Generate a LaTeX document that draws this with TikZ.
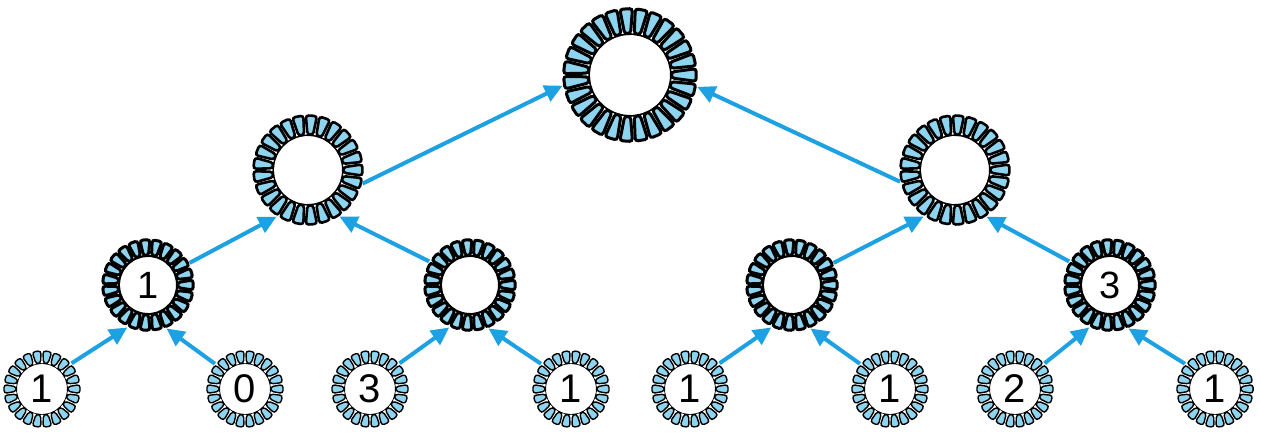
\documentclass[tikz,border=0pt]{standalone}
\usepackage{fontspec}
\setmainfont{Liberation Sans}
\usetikzlibrary{arrows.meta}
\definecolor{petal}{HTML}{8ED4EF}
\definecolor{arrowblue}{HTML}{1DA1E2}
\tikzset{
  arr/.style={draw=arrowblue, line width=4pt, -{Triangle[length=18pt,width=17pt]}},
  leafnum/.style={font=\fontsize{40}{40}\selectfont},
  midnum/.style={font=\fontsize{38}{38}\selectfont},
}
% name, x, y, inner r, outer r, petals, line width, node options, label
\newcommand{\petalring}[9]{%
  \pgfmathsetmacro\myri{#4+#7/2}%
  \pgfmathsetmacro\myro{#5-#7/2}%
  \pgfmathsetmacro\myd{180/#6*0.82}%
  \foreach \a in {1,...,#6} {
    \pgfmathsetmacro\myang{\a*360/#6}
    \draw[fill=petal, line width=#7pt, rounded corners=3pt, shift={(#2,#3)}]
      (\myang-\myd*0.75:\myri) -- (\myang+\myd*0.75:\myri)
      -- (\myang+\myd:\myro) -- (\myang-\myd:\myro) -- cycle;
  }
  \node[circle, inner sep=0pt, minimum size=2*#5pt, #8] (#1) at (#2,#3) {#9};
}
\begin{document}
\begin{tikzpicture}[x=1pt, y=-1pt]
\useasboundingbox (0,0) rectangle (1261,432);
% root
\petalring{R}{630}{75}{40}{68}{27}{3}{}{}
% level 2
\petalring{P}{308}{170}{34}{56}{25}{2.6}{}{}
\petalring{Q}{955}{170}{34}{56}{25}{2.6}{}{}
% level 3
\petalring{A}{148}{285}{28}{47}{23}{3}{midnum}{1}
\petalring{B}{470}{285}{28}{47}{23}{3}{midnum}{}
\petalring{C}{792}{285}{28}{47}{23}{3}{midnum}{}
\petalring{D}{1110}{285}{28}{47}{23}{3}{midnum}{3}
% leaves
\petalring{L1}{42}{389}{25}{39}{22}{1.4}{leafnum}{1}
\petalring{L2}{245}{389}{25}{39}{22}{1.4}{leafnum}{0}
\petalring{L3}{370}{389}{25}{39}{22}{1.4}{leafnum}{3}
\petalring{L4}{571}{389}{25}{39}{22}{1.4}{leafnum}{1}
\petalring{L5}{690}{389}{25}{39}{22}{1.4}{leafnum}{1}
\petalring{L6}{890}{389}{25}{39}{22}{1.4}{leafnum}{1}
\petalring{L7}{1015}{389}{25}{39}{22}{1.4}{leafnum}{2}
\petalring{L8}{1215}{389}{25}{39}{22}{1.4}{leafnum}{1}
% arrows leaves -> level 3
\draw[arr] (L1.41) -- (A.244);
\draw[arr] (L2.140) -- (A.293);
\draw[arr] (L3.41) -- (B.244);
\draw[arr] (L4.140) -- (B.293);
\draw[arr] (L5.41) -- (C.244);
\draw[arr] (L6.140) -- (C.293);
\draw[arr] (L7.41) -- (D.244);
\draw[arr] (L8.140) -- (D.293);
% level 3 -> level 2
\draw[arr] (A.28) -- (P.236);
\draw[arr] (B.150) -- (P.304);
\draw[arr] (C.28) -- (Q.236);
\draw[arr] (D.150) -- (Q.304);
% level 2 -> root
\draw[arr] (P.346) -- (R.189);
\draw[arr] (Q.192) -- (R.350);
\end{tikzpicture}
\end{document}
